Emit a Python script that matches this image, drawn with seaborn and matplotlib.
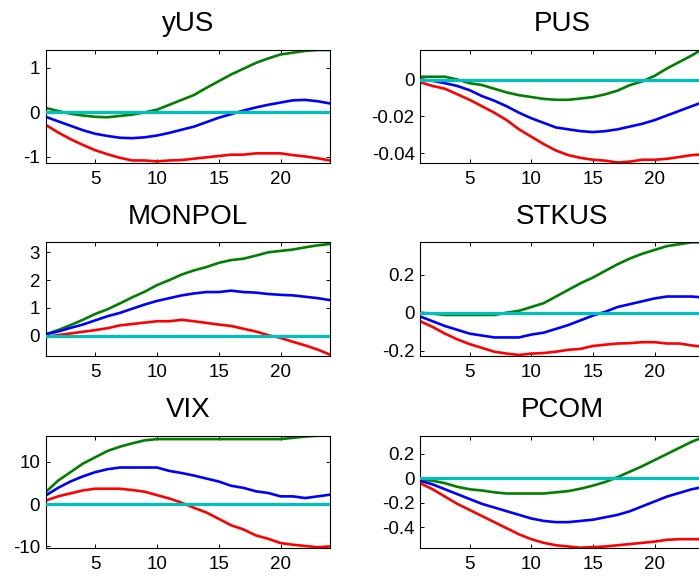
import numpy as np
import pandas as pd
import matplotlib
matplotlib.use("Agg")
import matplotlib.pyplot as plt
import seaborn as sns

# horizon
steps = list(range(1, 25))

# impulse responses: lower band, median, upper band
yus_lo = [-0.28, -0.45, -0.6, -0.73, -0.85, -0.94, -1.02, -1.08, -1.08, -1.1, -1.08, -1.07,
          -1.04, -1.01, -0.98, -0.95, -0.95, -0.92, -0.92, -0.92, -0.96, -0.99, -1.03, -1.08]
yus_md = [-0.1, -0.2, -0.3, -0.4, -0.48, -0.53, -0.57, -0.58, -0.56, -0.52, -0.46, -0.39,
          -0.32, -0.22, -0.12, -0.04, 0.04, 0.11, 0.17, 0.22, 0.27, 0.28, 0.25, 0.2]
yus_hi = [0.1, 0.03, -0.03, -0.07, -0.1, -0.11, -0.08, -0.05, 0.0, 0.06, 0.17, 0.28,
          0.39, 0.55, 0.7, 0.85, 0.98, 1.11, 1.21, 1.3, 1.34, 1.38, 1.4, 1.4]

pus_lo = [-0.0015, -0.0035, -0.005, -0.008, -0.011, -0.0145, -0.018, -0.022, -0.027, -0.031,
          -0.035, -0.0385, -0.041, -0.0425, -0.0435, -0.044, -0.045, -0.0445, -0.0435, -0.0435,
          -0.043, -0.042, -0.041, -0.0405]
pus_md = [0.0, -0.0007, -0.002, -0.0035, -0.0058, -0.009, -0.0115, -0.0145, -0.018, -0.021,
          -0.0235, -0.026, -0.027, -0.028, -0.0285, -0.028, -0.027, -0.0255, -0.024, -0.022,
          -0.0195, -0.017, -0.0145, -0.012]
pus_hi = [0.0015, 0.0015, 0.0015, 0.0, -0.002, -0.003, -0.005, -0.007, -0.0085, -0.0095,
          -0.0105, -0.011, -0.011, -0.0103, -0.0095, -0.008, -0.006, -0.003, -0.001, 0.002,
          0.006, 0.0095, 0.013, 0.017]

monpol_lo = [-0.05, 0.02, 0.08, 0.14, 0.2, 0.27, 0.37, 0.42, 0.47, 0.52, 0.52, 0.57,
             0.52, 0.46, 0.4, 0.35, 0.25, 0.15, 0.02, -0.08, -0.22, -0.35, -0.5, -0.68]
monpol_md = [0.05, 0.15, 0.28, 0.4, 0.55, 0.7, 0.82, 0.97, 1.12, 1.25, 1.35, 1.45,
             1.52, 1.57, 1.57, 1.62, 1.57, 1.55, 1.5, 1.47, 1.45, 1.4, 1.35, 1.28]
monpol_hi = [0.05, 0.2, 0.38, 0.57, 0.78, 0.95, 1.16, 1.38, 1.58, 1.82, 2.0, 2.2,
             2.35, 2.47, 2.62, 2.72, 2.77, 2.88, 3.0, 3.05, 3.1, 3.18, 3.25, 3.3]

stkus_lo = [-0.045, -0.075, -0.11, -0.14, -0.165, -0.185, -0.205, -0.215, -0.222, -0.215,
            -0.212, -0.205, -0.195, -0.19, -0.175, -0.168, -0.162, -0.16, -0.155, -0.155,
            -0.162, -0.162, -0.172, -0.18]
stkus_md = [-0.02, -0.045, -0.07, -0.09, -0.11, -0.12, -0.13, -0.13, -0.13, -0.115,
            -0.105, -0.085, -0.065, -0.04, -0.015, 0.005, 0.03, 0.045, 0.06, 0.075,
            0.085, 0.085, 0.085, 0.08]
stkus_hi = [0.0, -0.005, -0.012, -0.012, -0.012, -0.012, -0.012, 0.0, 0.01, 0.03,
            0.05, 0.085, 0.12, 0.155, 0.185, 0.22, 0.255, 0.285, 0.31, 0.33,
            0.35, 0.36, 0.37, 0.37]

vix_lo = [0.8, 1.8, 2.5, 3.2, 3.6, 3.6, 3.6, 3.3, 2.9, 2.1, 1.3, 0.3,
          -0.9, -2.0, -3.5, -5.0, -6.0, -7.4, -8.2, -9.2, -9.6, -9.9, -10.2, -10.0]
vix_md = [2.0, 3.8, 5.3, 6.5, 7.5, 8.2, 8.6, 8.6, 8.6, 8.6, 7.8, 7.3,
          6.7, 6.0, 5.3, 4.3, 3.8, 3.0, 2.6, 1.8, 1.8, 1.4, 1.8, 2.2]
vix_hi = [2.8, 5.5, 7.5, 9.5, 11.0, 12.5, 13.5, 14.3, 15.0, 15.3, 15.3, 15.3,
          15.3, 15.3, 15.3, 15.3, 15.3, 15.3, 15.3, 15.3, 15.6, 15.9, 16.1, 16.1]

pcom_lo = [-0.04, -0.09, -0.15, -0.21, -0.26, -0.31, -0.36, -0.41, -0.46, -0.5, -0.53, -0.55,
           -0.56, -0.57, -0.565, -0.56, -0.55, -0.54, -0.53, -0.52, -0.505, -0.5, -0.5, -0.5]
pcom_md = [-0.02, -0.05, -0.09, -0.13, -0.17, -0.21, -0.24, -0.27, -0.3, -0.33, -0.35, -0.36,
           -0.36, -0.35, -0.34, -0.32, -0.3, -0.27, -0.23, -0.19, -0.15, -0.12, -0.09, -0.07]
pcom_hi = [-0.01, -0.02, -0.04, -0.07, -0.09, -0.1, -0.115, -0.125, -0.125, -0.125, -0.125, -0.115,
           -0.105, -0.085, -0.06, -0.03, 0.01, 0.055, 0.1, 0.15, 0.2, 0.25, 0.3, 0.34]

titles = ["yUS", "PUS", "MONPOL", "STKUS", "VIX", "PCOM"]
bands = [(yus_lo, yus_md, yus_hi), (pus_lo, pus_md, pus_hi),
         (monpol_lo, monpol_md, monpol_hi), (stkus_lo, stkus_md, stkus_hi),
         (vix_lo, vix_md, vix_hi), (pcom_lo, pcom_md, pcom_hi)]
ylims = [(-1.13, 1.4), (-0.0451, 0.016), (-0.72, 3.36), (-0.226, 0.37), (-10.3, 16.1), (-0.57, 0.35)]
yticks = [[-1, 0, 1], [-0.04, -0.02, 0], [0, 1, 2, 3], [-0.2, 0, 0.2], [-10, 0, 10],
          [-0.4, -0.2, 0, 0.2]]

sns.set_style("ticks")
plt.rcParams["font.family"] = ["Liberation Sans", "DejaVu Sans"]
plt.rcParams["axes.unicode_minus"] = False
plt.rcParams["text.color"] = "black"
plt.rcParams["xtick.labelcolor"] = "black"
plt.rcParams["ytick.labelcolor"] = "black"

palette = {"hi": (0, 0.5, 0), "md": (0, 0, 1), "lo": (1, 0, 0)}

fig = plt.figure(figsize=(6.99, 5.78), dpi=100)
# axes boxes in pixels (left, top, right, bottom)
boxes = [(45.7, 50, 330, 162.7), (420.3, 50, 704, 162.7),
         (45.7, 242.3, 330, 355.7), (420.3, 242.3, 704, 355.7),
         (45.7, 435.7, 330, 547.7), (420.3, 435.7, 704, 547.7)]

for i, name in enumerate(titles):
    l, t, r, b = boxes[i]
    ax = fig.add_axes([l / 699, 1 - b / 578, (r - l) / 699, (b - t) / 578])
    lo, md, hi = bands[i]
    df = pd.DataFrame({"step": steps * 3,
                       "value": hi + md + lo,
                       "band": ["hi"] * 24 + ["md"] * 24 + ["lo"] * 24})
    sns.lineplot(data=df, x="step", y="value", hue="band", palette=palette,
                 linewidth=1.9, legend=False, sort=False, ax=ax)
    ax.axhline(0, color=(0, 0.75, 0.75), linewidth=2.3, zorder=5)
    ax.set_xlim(1, 24)
    ax.set_ylim(*ylims[i])
    ax.set_xticks([5, 10, 15, 20])
    ax.set_yticks(yticks[i])
    ax.set_yticklabels(["%g" % v for v in yticks[i]])
    ax.set_xlabel("")
    ax.set_ylabel("")
    ax.set_title(name, fontsize=20, pad=13.5, color="black")
    ax.tick_params(direction="in", length=3, width=0.7, top=True, right=True,
                   labelsize=13.5, color="black")
    ax.tick_params(axis="x", pad=6)
    ax.tick_params(axis="y", pad=4)
    for s in ax.spines.values():
        s.set_linewidth(0.8)
        s.set_color("black")

fig.savefig("out.png", dpi=100)
